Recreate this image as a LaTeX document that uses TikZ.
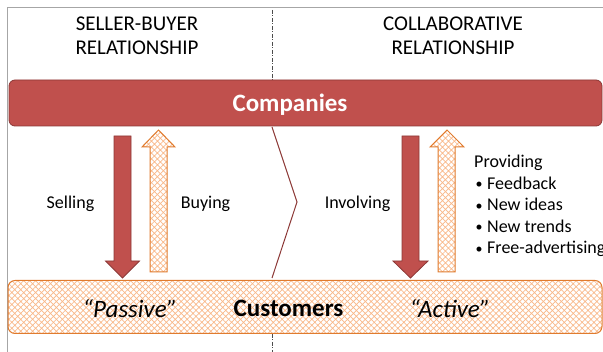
\documentclass[tikz,border=0pt]{standalone}
\usepackage{fontspec}
\setmainfont{Carlito}
\usetikzlibrary{patterns.meta}
\definecolor{cred}{HTML}{C0504D}
\definecolor{credline}{HTML}{8C3836}
\definecolor{corange}{HTML}{F9B98A}
\definecolor{corline}{HTML}{E07B2E}
\definecolor{frame}{HTML}{A6A6A6}
\newcommand{\bul}{\makebox[13pt][l]{\hspace{1.5pt}\fontsize{14}{14}\selectfont\raisebox{0.5pt}{•}}}
\tikzset{
  redshape/.style={fill=cred, draw=credline, line width=0.8pt, line join=miter},
  orshape/.style={preaction={fill=white}, pattern={Hatch[angle=45,distance=4.2pt,line width=0.7pt]}, pattern color=corange, draw=corline, line width=1pt},
  bodytext/.style={font=\fontsize{18}{21.5}\selectfont, inner sep=0pt},
  headtext/.style={font=\fontsize{21}{24}\selectfont, align=center, inner sep=0pt},
  bigtext/.style={font=\fontsize{25}{28}\selectfont, inner sep=0pt},
  divider/.style={draw=black!70, line width=0.5pt, dash pattern=on 4pt off 1.5pt on 1pt off 1.5pt},
}
\begin{document}
\begin{tikzpicture}[x=1pt,y=-1pt]
\useasboundingbox (0,0) rectangle (603,352);
% frame
\draw[frame, line width=1pt] (7,352) -- (7,8) -- (603,8);
% dividers
\draw[divider] (272,10) -- (272,80);
\draw[divider] (272,334) -- (272,352);
% headers
\node[headtext] (h1) at (137,36) {SELLER-BUYER\\RELATIONSHIP};
\node[headtext] (h2) at (453,36) {COLLABORATIVE\\RELATIONSHIP};
% companies
\node[redshape, rounded corners=6pt, minimum width=593pt, minimum height=46pt, inner sep=0pt] (comp) at (305.5,103) {};
\node[bigtext, text=white, font=\fontsize{25}{28}\selectfont\bfseries] (comptext) at (290,105) {Companies};
% customers
\node[orshape, rounded corners=7pt, minimum width=594pt, minimum height=53pt, inner sep=0pt] (cust) at (305,307) {};
\node[bigtext, font=\fontsize{25}{28}\selectfont\bfseries] (custtext) at (288.5,308.5) {Customers};
\node[bigtext, font=\fontsize{25}{28}\selectfont\itshape] (passive) at (130,308.5) {“Passive”};
\node[bigtext, font=\fontsize{25}{28}\selectfont\itshape] (active) at (450,308.5) {“Active”};
% arrows left
\draw[redshape] (114,136) -- (131,136) -- (131,261) -- (139.5,261) -- (122.5,278) -- (105.5,261) -- (114,261) -- cycle;
\draw[orshape] (150,272) -- (167,272) -- (167,147) -- (175,147) -- (158.5,130) -- (142,147) -- (150,147) -- cycle;
% arrows right
\draw[redshape] (402,136) -- (419,136) -- (419,261) -- (428,261) -- (410.5,278) -- (393,261) -- (402,261) -- cycle;
\draw[orshape] (438,272) -- (455,272) -- (455,147) -- (464,147) -- (447,130) -- (430,147) -- (438,147) -- cycle;
% chevron
\draw[credline, line width=1pt, line join=miter] (272,127) -- (297,202) -- (272,278);
% labels
\node[bodytext] (selling) at (70.5,203.5) {Selling};
\node[bodytext] (buying) at (205.5,203.5) {Buying};
\node[bodytext] (involving) at (357.5,203.5) {Involving};
\node[bodytext, anchor=north west, align=left] (providing) at (474,155) {Providing\\
\bul Feedback\\
\bul New ideas\\
\bul New trends\\
\bul Free-advertising};
\end{tikzpicture}
\end{document}
